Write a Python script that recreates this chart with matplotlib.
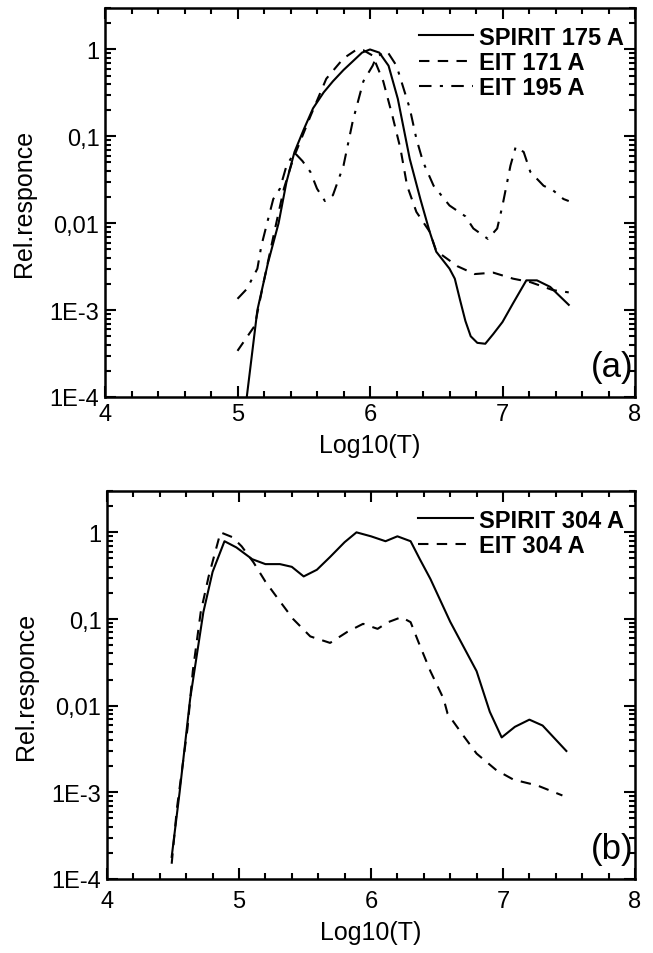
import matplotlib
matplotlib.use("Agg")
import matplotlib.pyplot as plt
from matplotlib.ticker import FixedLocator, FuncFormatter, LogLocator, MultipleLocator

plt.rcParams['font.family'] = ['Liberation Sans', 'DejaVu Sans']

# Panel (a)
spirit175_x = [5.07, 5.15, 5.23, 5.31, 5.37, 5.43, 5.50, 5.57, 5.65, 5.72, 5.80, 5.87, 5.94, 6.00, 6.07, 6.14, 6.21, 6.30, 6.38, 6.45, 6.50, 6.60, 6.64, 6.68, 6.72, 6.76, 6.81, 6.87, 6.93, 7.00, 7.08, 7.18, 7.26, 7.36, 7.50]
spirit175_y = [1.0e-4, 1.0e-3, 3.5e-3, 0.010, 0.030, 0.066, 0.12, 0.21, 0.32, 0.43, 0.58, 0.73, 0.92, 1.0, 0.92, 0.65, 0.27, 0.055, 0.019, 0.008, 0.0047, 0.003, 0.0023, 0.0013, 7.5e-4, 5.0e-4, 4.2e-4, 4.1e-4, 5.3e-4, 7.3e-4, 1.2e-3, 2.2e-3, 2.2e-3, 1.85e-3, 1.15e-3]

eit171_x = [5.00, 5.13, 5.20, 5.28, 5.35, 5.42, 5.55, 5.67, 5.80, 5.90, 5.95, 6.02, 6.10, 6.17, 6.23, 6.28, 6.35, 6.45, 6.50, 6.66, 6.79, 6.93, 7.08, 7.21, 7.38, 7.50]
eit171_y = [3.4e-4, 6.6e-4, 2.2e-3, 0.0082, 0.025, 0.055, 0.17, 0.46, 0.79, 1.0, 0.98, 0.85, 0.43, 0.17, 0.072, 0.027, 0.0135, 0.008, 0.0048, 0.0032, 0.0026, 0.0027, 0.0023, 0.0021, 0.0017, 0.0016]

eit195_x = [5.00, 5.07, 5.15, 5.18, 5.23, 5.27, 5.32, 5.37, 5.43, 5.49, 5.55, 5.60, 5.66, 5.72, 5.80, 5.87, 5.95, 6.02, 6.05, 6.13, 6.20, 6.30, 6.35, 6.40, 6.48, 6.60, 6.72, 6.78, 6.89, 6.96, 7.00, 7.06, 7.10, 7.16, 7.21, 7.31, 7.38, 7.46, 7.50]
eit195_y = [1.35e-3, 1.75e-3, 3.0e-3, 5.5e-3, 0.011, 0.019, 0.025, 0.046, 0.065, 0.052, 0.039, 0.025, 0.018, 0.021, 0.046, 0.15, 0.43, 0.65, 0.83, 0.95, 0.65, 0.21, 0.094, 0.051, 0.027, 0.016, 0.012, 0.0087, 0.0066, 0.0087, 0.016, 0.046, 0.076, 0.066, 0.039, 0.027, 0.024, 0.019, 0.018]

# Panel (b)
spirit304_x = [4.49, 4.55, 4.63, 4.73, 4.80, 4.89, 4.98, 5.10, 5.20, 5.31, 5.40, 5.49, 5.59, 5.69, 5.80, 5.89, 6.00, 6.11, 6.20, 6.30, 6.37, 6.45, 6.60, 6.80, 6.90, 6.99, 7.09, 7.20, 7.30, 7.48]
spirit304_y = [1.8e-4, 1.0e-3, 0.012, 0.12, 0.35, 0.79, 0.67, 0.49, 0.43, 0.43, 0.40, 0.31, 0.37, 0.52, 0.77, 1.0, 0.90, 0.79, 0.90, 0.79, 0.49, 0.29, 0.093, 0.025, 0.0085, 0.0043, 0.0057, 0.0069, 0.0059, 0.003]

eit304_x = [4.49, 4.53, 4.61, 4.65, 4.71, 4.77, 4.86, 4.95, 5.02, 5.11, 5.20, 5.31, 5.41, 5.54, 5.69, 5.82, 5.94, 6.05, 6.13, 6.23, 6.30, 6.36, 6.45, 6.55, 6.58, 6.70, 6.80, 6.95, 7.08, 7.26, 7.45]
eit304_y = [1.5e-4, 6.6e-4, 0.0055, 0.025, 0.12, 0.31, 1.0, 0.88, 0.69, 0.45, 0.27, 0.16, 0.10, 0.063, 0.053, 0.071, 0.088, 0.077, 0.092, 0.105, 0.092, 0.054, 0.025, 0.012, 0.0081, 0.0045, 0.0028, 0.0018, 0.0014, 0.0012, 9.2e-4]

ytick_vals = [1e-4, 1e-3, 1e-2, 1e-1, 1]
ytick_labels = ['1E-4', '1E-3', '0,01', '0,1', '1']
xtick_vals = [4, 5, 6, 7, 8]

fig = plt.figure(figsize=(6.53, 9.54), dpi=100)
W, H = 653.0, 954.0
ax1 = fig.add_axes([105 / W, 1 - 398 / H, 530 / W, 389 / H])
ax2 = fig.add_axes([107 / W, 1 - 880 / H, 528 / W, 388 / H])

lw = 1.5
dash = (0, (5, 4))
dashdot = (0, (6, 4, 1.5, 4))

ax1.plot(spirit175_x, spirit175_y, color='black', lw=lw, ls='-', label='SPIRIT 175 A')
ax1.plot(eit171_x, eit171_y, color='black', lw=lw, ls=dash, label='EIT 171 A')
ax1.plot(eit195_x, eit195_y, color='black', lw=lw, ls=dashdot, label='EIT 195 A')

ax2.plot(spirit304_x, spirit304_y, color='black', lw=lw, ls='-', label='SPIRIT 304 A')
ax2.plot(eit304_x, eit304_y, color='black', lw=lw, ls=dash, label='EIT 304 A')


def ylab(v, p):
    t = min(ytick_vals, key=lambda u: abs(u - v) / u)
    return ytick_labels[ytick_vals.index(t)]


for ax, tag, xpad, lpad in [(ax1, '(a)', 4, 6), (ax2, '(b)', 8, 6)]:
    ax.set_yscale('log')
    ax.set_xlim(4, 8)
    ax.set_ylim(1e-4, 3.0)
    ax.yaxis.set_major_locator(FixedLocator(ytick_vals))
    ax.yaxis.set_major_formatter(FuncFormatter(ylab))
    ax.yaxis.set_minor_locator(LogLocator(base=10, subs=[2, 3, 4, 5, 6, 7, 8, 9], numticks=20))
    ax.yaxis.set_minor_formatter(FuncFormatter(lambda v, p: ''))
    ax.xaxis.set_major_locator(FixedLocator(xtick_vals))
    ax.xaxis.set_minor_locator(MultipleLocator(0.2))
    ax.tick_params(which='both', direction='in', top=True, right=True, width=1.5)
    ax.tick_params(which='major', length=8, labelsize=17)
    ax.tick_params(axis='x', which='major', pad=xpad)
    ax.tick_params(axis='y', which='major', pad=4)
    ax.tick_params(which='minor', length=4)
    for s in ax.spines.values():
        s.set_linewidth(1.8)
    ax.set_xlabel('Log10(T)', fontsize=18, labelpad=lpad)
    ax.set_ylabel('Rel.responce', fontsize=18, labelpad=10)
    ax.text(0.998, 0.035, tag, transform=ax.transAxes, ha='right', va='bottom', fontsize=25)
    ax.legend(loc='upper right', bbox_to_anchor=(1.012, 1.0), frameon=False,
              prop={'weight': 'bold', 'size': 17}, handlelength=2.3, handletextpad=0.25,
              labelspacing=0.1, borderaxespad=0.35)

fig.savefig('out.png', dpi=100)
